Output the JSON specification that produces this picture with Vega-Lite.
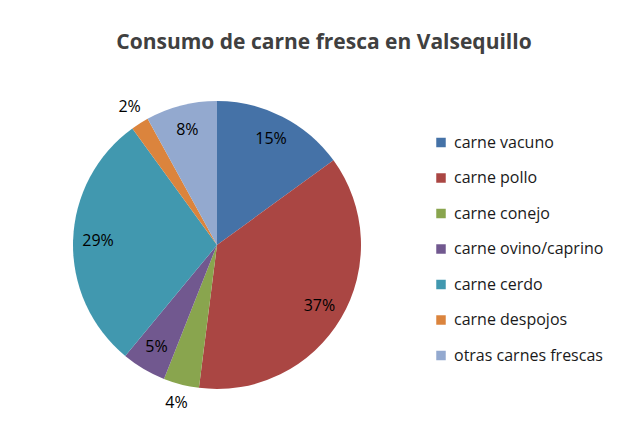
{
  "$schema": "https://vega.github.io/schema/vega-lite/v6.json",
  "width": 288,
  "height": 288,
  "autosize": "none",
  "padding": {"left": 73, "top": 101, "right": 258, "bottom": 42},
  "background": "white",
  "title": {
    "text": "Consumo de carne fresca en Valsequillo",
    "font": "Open Sans",
    "fontSize": 21,
    "fontWeight": "bold",
    "color": "#404040",
    "dx": 107,
    "offset": 15,
    "baseline": "middle"
  },
  "data": {
    "values": [
      {"i": 1, "cat": "carne vacuno", "value": 15, "pct": "15%"},
      {"i": 2, "cat": "carne pollo", "value": 37, "pct": "37%"},
      {"i": 3, "cat": "carne conejo", "value": 4, "pct": "4%"},
      {"i": 4, "cat": "carne ovino/caprino", "value": 5, "pct": "5%"},
      {"i": 5, "cat": "carne cerdo", "value": 29, "pct": "29%"},
      {"i": 6, "cat": "carne despojos", "value": 2, "pct": "2%"},
      {"i": 7, "cat": "otras carnes frescas", "value": 8, "pct": "8%"}
    ]
  },
  "encoding": {
    "theta": {"field": "value", "type": "quantitative", "stack": true},
    "order": {"field": "i", "type": "quantitative"}
  },
  "layer": [
    {
      "mark": {"type": "arc", "outerRadius": 144},
      "encoding": {
        "color": {
          "field": "cat",
          "type": "nominal",
          "scale": {
            "domain": ["carne vacuno", "carne pollo", "carne conejo", "carne ovino/caprino", "carne cerdo", "carne despojos", "otras carnes frescas"],
            "range": ["#4572A7", "#AA4643", "#89A54E", "#71588F", "#4198AF", "#DB843D", "#93A9CF"]
          },
          "legend": {
            "title": null,
            "orient": "none",
            "legendX": 360,
            "legendY": 33.5,
            "symbolType": "square",
            "symbolSize": 90,
            "symbolStrokeWidth": 0,
            "labelFont": "Open Sans",
            "labelFontSize": 16,
            "labelColor": "#1a1a1a",
            "labelOffset": 5,
            "rowPadding": 19.5,
            "labelLimit": 300
          }
        }
      }
    },
    {
      "mark": {"type": "text", "radius": 119, "font": "Open Sans", "fontSize": 16, "color": "#000000"},
      "encoding": {
        "text": {"condition": {"test": "datum.value < 5", "value": ""}, "field": "pct", "type": "nominal"}
      }
    },
    {
      "mark": {"type": "text", "radius": 163, "font": "Open Sans", "fontSize": 16, "color": "#000000"},
      "encoding": {
        "text": {"condition": {"test": "datum.value >= 5", "value": ""}, "field": "pct", "type": "nominal"}
      }
    }
  ]
}
